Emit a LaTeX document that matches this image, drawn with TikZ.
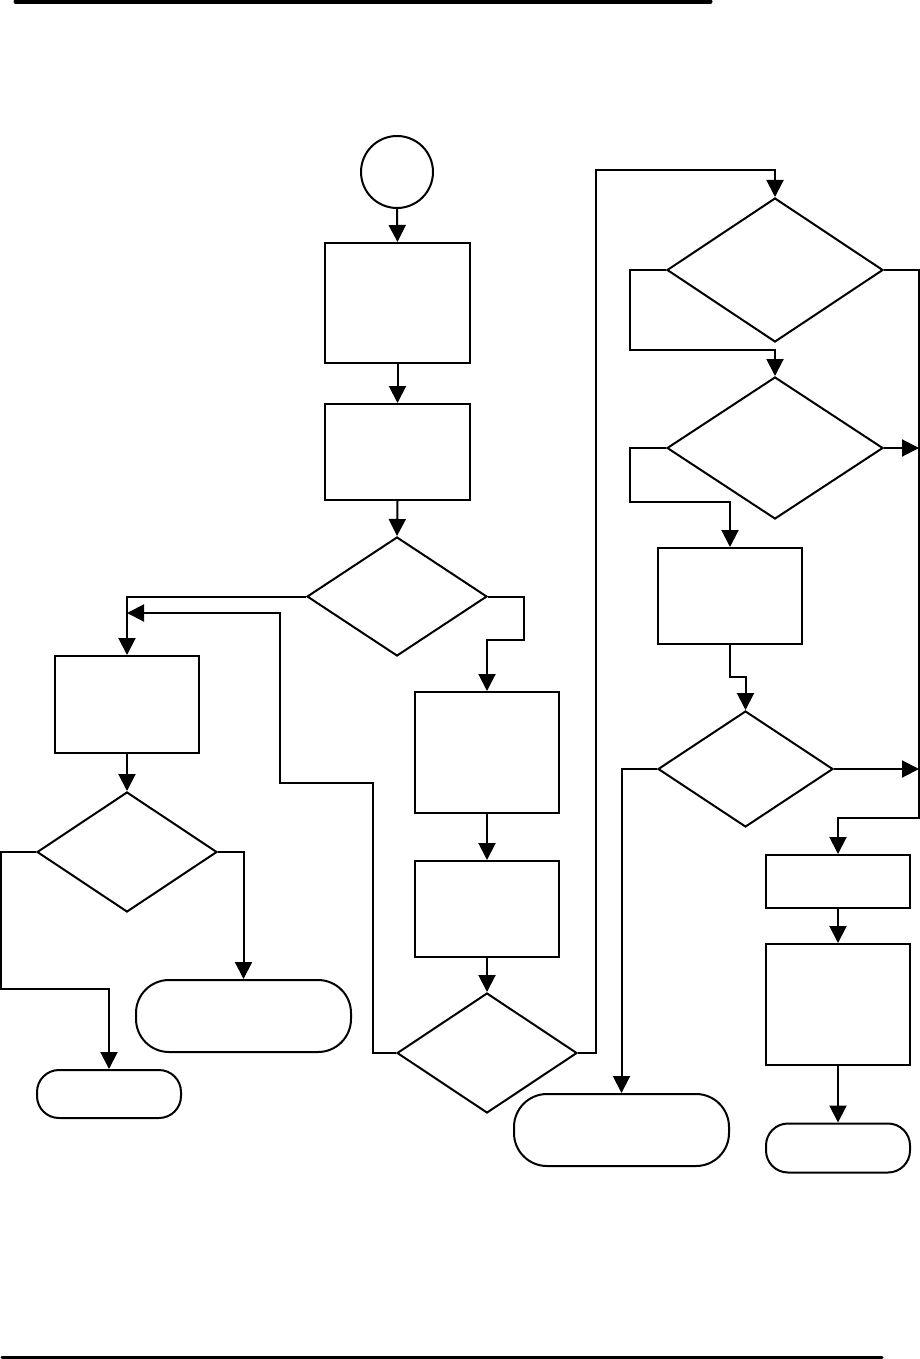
\documentclass[tikz,border=0pt]{standalone}
\usetikzlibrary{arrows.meta,shapes.geometric,calc}
\begin{document}
\begin{tikzpicture}[
        x=1pt, y=-1pt,
        procbox/.style={draw, line width=2pt, minimum width=144pt, inner sep=0pt},
        decbox/.style={draw, diamond, line width=2pt, inner sep=0pt},
        termbox/.style={draw, line width=2pt, minimum width=144pt, inner sep=0pt},
        startcirc/.style={draw, circle, line width=2pt, minimum size=72pt, inner sep=0pt},
        flowarr/.style={line width=2pt, -{Triangle[length=17pt,width=17pt]}},
        flowline/.style={line width=2pt},
        pagerule/.style={line width=#1, line cap=round}
      ]
      \useasboundingbox (0,0) rectangle (920,1359);
      \draw[pagerule=5pt] (16,2) -- (710,2);
      \draw[pagerule=3pt] (2,1357.5) -- (882,1357.5);
      % middle column
      \node[startcirc] (start) at (397,172) {};
      \node[procbox, minimum width=145pt, minimum height=120pt] (b1) at (397.5,303) {};
      \node[procbox, minimum width=145pt, minimum height=96pt] (b2) at (397.5,452) {};
      \node[decbox, minimum width=180pt, minimum height=119pt] (d1) at (397,596.5) {};
      % left column
      \node[procbox, minimum height=97pt] (b3) at (127,704.5) {};
      \node[decbox, minimum width=180pt, minimum height=120pt] (d2) at (127,852) {};
      \node[termbox, minimum height=48pt, rounded corners=22pt] (t1) at (109,1094) {};
      \node[termbox, minimum width=215pt, minimum height=72pt, rounded corners=33pt] (t2) at (243.5,1016) {};
      % second column
      \node[procbox, minimum height=121pt] (b4) at (487,752.5) {};
      \node[procbox, minimum height=96pt] (b6) at (487,909) {};
      \node[decbox, minimum width=180pt, minimum height=120pt] (d4) at (487,1053) {};
      % right part
      \node[decbox, minimum width=216pt, minimum height=144pt] (d3) at (775,270) {};
      \node[decbox, minimum width=216pt, minimum height=142pt] (d5) at (775,448) {};
      \node[procbox, minimum height=96pt] (b5) at (730,596) {};
      \node[decbox, minimum width=175pt, minimum height=116pt] (d6) at (745.5,769) {};
      \node[termbox, minimum width=215pt, minimum height=72pt, rounded corners=33pt] (t3) at (621.5,1130) {};
      \node[procbox, minimum height=53pt] (b7) at (838,881.5) {};
      \node[procbox, minimum height=121pt] (b8) at (838,1004.5) {};
      \node[termbox, minimum height=49pt, rounded corners=22pt] (t4) at (838,1148) {};
      \coordinate (rail) at (919,818);
      \coordinate (ret) at (127,613);
      % straight arrows
      \foreach \a/\b in {start/b1, b1/b2, b2/d1, b3/d2, b4/b6, b6/d4, b7/b8, b8/t4}
        \draw[flowarr] (\a.south) -- (\b.north);
      % branches
      \draw[flowarr] (d1.west) -| (b3.north);
      \draw[flowarr] (d1.east) -- ++(36,0) -- ++(0,43) -| (b4.north);
      \draw[flowarr] (d2.west) -- ++(-35,0) |- ($(t1.north)+(0,-80)$) -- (t1.north);
      \draw[flowarr] (d2.east) -| (t2.north);
      \draw[flowarr] (d4.west) -- ++(-23,0) |- (280,783) |- (ret);
      \draw[flowarr] (d4.east) -- ++(18,0) |- ($(d3.north)+(0,-27)$) -- (d3.north);
      \draw[flowarr] (d3.west) -- ++(-36,0) |- ($(d5.north)+(0,-26)$) -- (d5.north);
      \draw[flowarr] (d3.east) -| (rail) -| (b7.north);
      \draw[flowarr] (d5.east) -- (d5.east -| rail);
      \draw[flowarr] (d5.west) -- ++(-36,0) |- ($(b5.north)+(0,-45)$) -- (b5.north);
      \draw[flowarr] (b5.south) -- ++(0,32) -| (d6.north);
      \draw[flowarr] (d6.east) -- (d6.east -| rail);
      \draw[flowarr] (d6.west) -| (t3.north);
    \end{tikzpicture}
\end{document}
